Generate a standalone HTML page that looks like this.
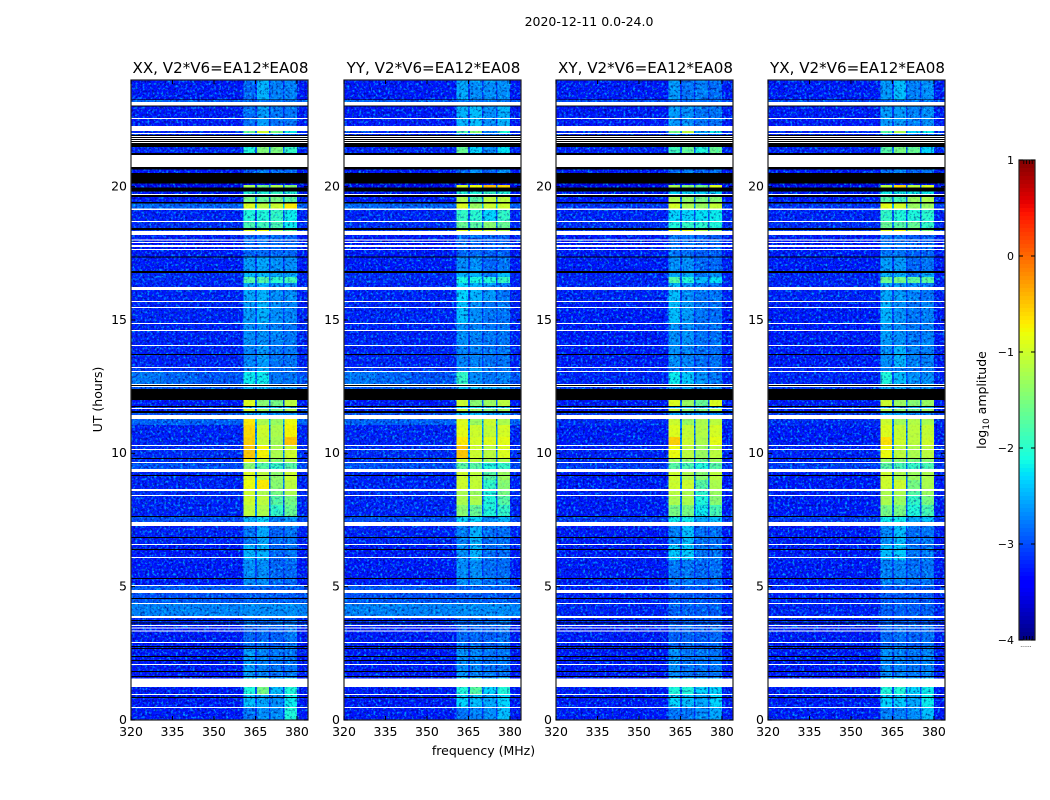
<!DOCTYPE html>
<html>
<head>
<meta charset="utf-8">
<title>2020-12-11 amplitude dynamic spectra</title>
<style>
html,body{margin:0;padding:0;background:#fff;width:1050px;height:800px;overflow:hidden}
svg{display:block}
text{font-family:"DejaVu Sans","Liberation Sans",sans-serif;fill:#000}
</style>
</head>
<body>
<svg id="chart" xmlns="http://www.w3.org/2000/svg" width="1050" height="800" viewBox="0 0 1050 800">
<defs>
<filter id="speckleLight" x="0" y="0" width="1" height="1" color-interpolation-filters="sRGB">
<feTurbulence type="fractalNoise" baseFrequency="0.42" numOctaves="2" seed="4"/>
<feColorMatrix type="matrix" values="0 0 0 0 0  0 0 0 0 0.85  0 0 0 0 1  3.2 0 0 0 -1.55"/>
</filter>
<filter id="speckleDark" x="0" y="0" width="1" height="1" color-interpolation-filters="sRGB">
<feTurbulence type="fractalNoise" baseFrequency="0.42" numOctaves="2" seed="11"/>
<feColorMatrix type="matrix" values="0 0 0 0 0  0 0 0 0 0  0 0 0 0 0.45  3.2 0 0 0 -1.6"/>
</filter>
</defs>
<text x="589" y="26" font-size="12.5" text-anchor="middle">2020-12-11 0.0-24.0</text>
<text x="483.5" y="755" font-size="12.5" text-anchor="middle">frequency (MHz)</text>
<text x="0" y="0" font-size="12.5" text-anchor="middle" transform="translate(102,399.5) rotate(-90)">UT (hours)</text>
<text x="0" y="0" font-size="12.5" text-anchor="middle" transform="translate(986,400) rotate(-90)">log<tspan font-size="9" dy="3">10</tspan><tspan dy="-3"> amplitude</tspan></text>
<g id="panels"></g>
<g id="colorbar"></g>
</svg>
<script>
// ---- data (log10 amplitude; time in hours, frequency in MHz) ----
const panelNames = ['XX', 'YY', 'XY', 'YX'];
const titleSuffix = ', V2*V6=EA12*EA08';
const xTicks = [320, 335, 350, 365, 380];
const yTicks = [0, 5, 10, 15, 20];
const colorbarTicks = [1, 0, -1, -2, -3, -4];
const freqEdges = [320, 332, 344, 360.7, 364.9, 365.5, 369.9, 370.5, 374.9, 375.5, 380, 384];
const timeEdges = [24, 23.25, 23, 22.09, 22.01, 21.49, 21.26, 20.51, 20.07, 19.91, 19.67, 19.41, 19.18, 18.69, 18.41, 18.19, 17.36, 16.8, 16.61, 16.39, 15.69, 14.87, 14.04, 13.22, 13.05, 12.56, 12, 11.76, 11.66, 11.57, 11.29, 11.06, 10.61, 10.275, 9.79, 9.64, 9.3, 9, 8.66, 8.4, 8.06, 7.61, 7.275, 6.56, 6, 5.06, 4.875, 4.575, 4.35, 3.86, 3.56, 2.66, 1.575, 0.975, 0.45, 0];
const lowParallelLeft = [-3.2,-2.7,-3.2,-3.1,-3.1,-3.15,-3.2,-3.5,-3.4,-3.2,-3.2,-2.7,-3.15,-3.1,-3,-3.2,-3.2,-3.1,-3.1,-3.15,-3.15,-3.15,-3.15,-3.05,-2.6,-2.8,-3.2,-3.1,-3.2,-2.85,-2.75,-3.15,-3.15,-3.1,-3.1,-2.85,-3.15,-3.15,-3.1,-3.15,-3.15,-2.85,-3.15,-3.2,-3.2,-2.8,-2.85,-2.8,-2.55,-3.1,-3.2,-3.2,-3.2,-3.2,-3.2];
const lowParallelRight = [-3.2,-2.8,-3.2,-3.1,-3.1,-3.15,-3.2,-3.5,-3.4,-3.2,-3.2,-2.75,-3.15,-3.1,-3,-3.2,-3.2,-3.1,-3.15,-3.15,-3.15,-3.15,-3.15,-3.1,-2.85,-2.8,-3.2,-3.1,-3.2,-2.85,-2.75,-3.15,-3.15,-3.1,-3.1,-2.9,-3.15,-3.15,-3.1,-3.15,-3.15,-2.9,-3.15,-3.2,-3.2,-2.8,-2.85,-2.8,-2.55,-3.1,-3.2,-3.2,-3.2,-3.2,-3.2];
const lowCross = [-3.2,-2.9,-3.2,-3.1,-3.1,-3.15,-3.2,-3.5,-3.4,-3.2,-3.2,-3.05,-3.15,-3.1,-3,-3.2,-3.2,-3.15,-3.15,-3.15,-3.2,-3.2,-3.2,-3.15,-3.15,-3,-3.2,-3.1,-3.2,-3,-3.1,-3.2,-3.2,-3.15,-3.15,-3,-3.2,-3.2,-3.15,-3.2,-3.2,-3,-3.2,-3.2,-3.2,-3.15,-3.15,-3.15,-3.15,-3.15,-3.2,-3.2,-3.2,-3.2,-3.2];
const bandsXX = [
[-2.7,-2.35,-2.55,-2.55],[-2.6,-2.6,-2.6,-2.6],[-2.65,-2.45,-2.6,-2.6],[-1.6,-1,-1.5,-2.1],[-2.7,-2.7,-2.7,-2.8],
[-2,-1.45,-1.45,-1.9],[-2.8,-2.6,-2.7,-2.7],[-3.3,-3.3,-3.3,-3.3],[-1.2,-1.5,-1.2,-1.4],[-2,-2,-1.9,-2],
[-1.5,-1.6,-1.5,-1.7],[-0.9,-1.1,-1,-0.7],[-2,-2,-1.9,-2.1],[-1.8,-1.85,-1.8,-2.1],[-0.9,-0.8,-1.3,-1.7],
[-2.7,-2.65,-2.7,-2.7],[-2.45,-2.4,-2.5,-2.5],[-2.3,-2.3,-2.4,-2.4],[-1.75,-1.75,-1.95,-1.85],[-2.4,-2.35,-2.5,-2.5],
[-2.45,-2.35,-2.5,-2.55],[-2.5,-2.5,-2.55,-2.6],[-2.55,-2.45,-2.6,-2.6],[-2.55,-2.4,-2.7,-2.65],[-2.1,-2.1,-2.6,-2.6],
[-2.35,-2.35,-2.5,-2.5],[-0.9,-1.4,-1.5,-1.1],[-2.3,-2.3,-2.3,-2.3],[-1,-1.3,-1.5,-1.2],[-2.4,-2.4,-2.5,-2.5],
[-0.7,-1.2,-1.3,-0.8],[-0.6,-1,-1.2,-0.75],[-0.55,-1.05,-1.25,-0.5],[-0.5,-0.75,-1.2,-1],[-0.7,-1.1,-1.4,-1.2],
[-1.4,-1.7,-1.9,-1.7],[-0.9,-1.1,-1.35,-1],[-0.8,-0.7,-1.4,-1.1],[-1,-1.2,-1.5,-1.2],[-1,-1.1,-1.7,-1.5],
[-1.1,-1.2,-1.9,-1.6],[-2.35,-2.2,-2.6,-2.5],[-2.6,-2.4,-2.7,-2.6],[-2.35,-2.35,-2.7,-2.6],[-2.5,-2.5,-2.7,-2.7],
[-2.7,-2.7,-2.75,-2.75],[-2.8,-2.75,-2.8,-2.8],[-2.75,-2.75,-2.75,-2.75],[-2.5,-2.5,-2.5,-2.5],[-2.7,-2.7,-2.7,-2.6],
[-2.7,-2.7,-2.75,-2.6],[-2.45,-2.55,-2.6,-2.6],[-2,-1.5,-2.3,-2],[-2.3,-2.4,-2.5,-2.1],[-2.6,-2.5,-2.5,-2]];
const bandsYY = [
[-2.4,-2.5,-2.5,-2.5],[-2.6,-2.6,-2.6,-2.6],[-2.35,-2.3,-2.5,-2.35],[-1.8,-1.4,-2.6,-2],[-2.7,-2.7,-2.7,-2.8],
[-1.6,-2.2,-2.5,-2.15],[-2.7,-2.5,-2.7,-2.5],[-3.3,-3.3,-3.3,-3.3],[-0.9,-0.8,-0.45,-0.6],[-2,-2,-1.9,-2],
[-1.2,-1.7,-1.1,-1.1],[-0.9,-1.3,-1,-1],[-1.9,-1.95,-2.2,-1.9],[-1.6,-1.7,-1.4,-1.6],[-0.9,-0.8,-1,-1.2],
[-2.7,-2.7,-2.75,-2.75],[-2.5,-2.5,-2.7,-2.6],[-2.35,-2.35,-2.6,-2.3],[-2.05,-2.05,-2,-1.9],[-2.2,-2.35,-2.45,-2.6],
[-2.3,-2.5,-2.6,-2.6],[-2.5,-2.55,-2.6,-2.6],[-2.55,-2.55,-2.6,-2.6],[-2.55,-2.4,-2.6,-2.65],[-1.9,-2.5,-2.6,-2.55],
[-2.3,-2.3,-2.4,-2.4],[-1,-1.4,-1.3,-1.1],[-2.2,-2.2,-2.2,-2.2],[-1.1,-1.3,-1.5,-1.3],[-2.3,-2.3,-2.4,-2.4],
[-0.9,-1.3,-1,-1.2],[-0.85,-1,-1.05,-0.95],[-0.7,-0.95,-0.9,-0.85],[-0.5,-1,-1.1,-0.9],[-1,-1.1,-1.3,-1.2],
[-1.7,-1.7,-2,-1.9],[-1,-1.1,-1.7,-1.3],[-1,-1.05,-1.9,-1.4],[-1.2,-1.3,-2,-1.5],[-1.2,-1.2,-2,-1.7],
[-1.4,-1.6,-2,-1.9],[-2.2,-2.2,-2.5,-2.35],[-2.55,-2.35,-2.65,-2.65],[-2.5,-2.35,-2.65,-2.65],[-2.5,-2.5,-2.65,-2.65],
[-2.7,-2.7,-2.7,-2.7],[-2.8,-2.75,-2.8,-2.8],[-2.75,-2.75,-2.75,-2.75],[-2.5,-2.5,-2.5,-2.5],[-2.7,-2.7,-2.7,-2.6],
[-2.7,-2.7,-2.75,-2.65],[-2.5,-2.55,-2.6,-2.6],[-2,-1.7,-2.2,-2],[-2.2,-2.3,-2.4,-2.2],[-2.6,-2.55,-2.5,-2.3]];
const bandsXY = [
[-2.45,-2.6,-2.55,-2.65],[-2.7,-2.7,-2.7,-2.7],[-2.45,-2.5,-2.6,-2.6],[-1.5,-1.1,-2.4,-2.1],[-2.7,-2.7,-2.7,-2.8],
[-1.85,-1.6,-2,-1.6],[-2.7,-2.6,-2.7,-2.6],[-3.3,-3.3,-3.3,-3.3],[-1.2,-1.4,-1.5,-0.9],[-2.2,-2.2,-2.2,-2.2],
[-1.2,-1.35,-1.5,-1.4],[-0.95,-1.2,-1.3,-1.05],[-2.2,-2.2,-2.15,-2.1],[-2,-1.9,-1.95,-2],[-0.9,-0.8,-1.2,-1.5],
[-2.6,-2.65,-2.75,-2.75],[-2.5,-2.5,-2.7,-2.7],[-2.4,-2.4,-2.6,-2.5],[-1.75,-2,-2.3,-2.15],[-2.3,-2.5,-2.6,-2.6],
[-2.3,-2.45,-2.6,-2.65],[-2.5,-2.5,-2.65,-2.65],[-2.5,-2.55,-2.65,-2.65],[-2.6,-2.65,-2.7,-2.7],[-2.1,-2.25,-2.5,-2.6],
[-2.4,-2.4,-2.5,-2.5],[-0.9,-1.3,-1.6,-0.9],[-2.4,-2.4,-2.4,-2.4],[-1.1,-1.4,-1.5,-1.2],[-2.4,-2.4,-2.5,-2.5],
[-1,-1.3,-1.2,-1.1],[-0.9,-1.05,-1.15,-0.95],[-0.55,-1,-1.2,-0.85],[-0.8,-1.1,-1.3,-1.1],[-1.3,-1.4,-1.6,-1.3],
[-1.7,-1.8,-2,-1.7],[-1,-1.2,-1.4,-1.1],[-1,-1,-1.7,-1.2],[-1.1,-1.2,-1.9,-1.3],[-1.2,-1.2,-2,-1.4],
[-1.5,-1.5,-2.1,-1.8],[-2.1,-2.1,-2.4,-2.3],[-2.55,-2.3,-2.65,-2.65],[-2.25,-2.25,-2.6,-2.6],[-2.6,-2.6,-2.7,-2.65],
[-2.8,-2.8,-2.8,-2.8],[-2.8,-2.8,-2.8,-2.8],[-2.8,-2.8,-2.8,-2.8],[-2.75,-2.75,-2.75,-2.75],[-2.8,-2.8,-2.8,-2.8],
[-2.75,-2.7,-2.8,-2.7],[-2.5,-2.6,-2.6,-2.6],[-2,-2,-2.2,-2.2],[-2.2,-2.3,-2.4,-2.2],[-2.6,-2.6,-2.5,-2.4]];
const bandsYX = [
[-2.45,-2.3,-2.55,-2.5],[-2.7,-2.7,-2.7,-2.7],[-2.45,-2.45,-2.55,-2.5],[-1.7,-1.2,-2.2,-2.1],[-2.7,-2.7,-2.7,-2.8],
[-1.7,-1.5,-1.6,-2.2],[-2.7,-2.55,-2.7,-2.6],[-3.3,-3.3,-3.3,-3.3],[-1.1,-0.6,-1.1,-0.9],[-2.1,-2.1,-2.1,-2.1],
[-1.7,-1.8,-1.3,-1.2],[-0.85,-0.95,-1.3,-1.3],[-1.9,-2,-2,-1.95],[-1.6,-1.7,-1.6,-1.9],[-0.9,-0.8,-1.2,-1.5],
[-2.6,-2.6,-2.75,-2.75],[-2.45,-2.45,-2.7,-2.6],[-2.35,-2.35,-2.6,-2.4],[-1.6,-1.55,-1.65,-1.7],[-2.4,-2.45,-2.55,-2.6],
[-2.35,-2.5,-2.6,-2.55],[-2.45,-2.5,-2.6,-2.55],[-2.5,-2.35,-2.55,-2.55],[-2.55,-2.6,-2.7,-2.6],[-2,-2.3,-2.5,-2.5],
[-2.4,-2.4,-2.5,-2.5],[-1,-1.3,-1.4,-1.3],[-2.4,-2.4,-2.4,-2.4],[-1.2,-1.4,-1.5,-1.3],[-2.4,-2.4,-2.5,-2.5],
[-1,-1.25,-1.15,-1.2],[-0.9,-1.05,-1.1,-1.05],[-0.65,-1,-1.1,-1],[-0.8,-1.1,-1.2,-1.1],[-1.3,-1.4,-1.5,-1.4],
[-1.7,-1.8,-1.9,-1.8],[-1,-1.2,-1.3,-1.2],[-1,-1,-1.5,-1.2],[-1.2,-1.2,-1.7,-1.3],[-1.2,-1.3,-1.9,-1.5],
[-1.5,-1.5,-2,-1.8],[-2.1,-2.1,-2.4,-2.3],[-2.5,-2.3,-2.65,-2.6],[-2.3,-2.25,-2.6,-2.6],[-2.55,-2.55,-2.65,-2.6],
[-2.8,-2.8,-2.8,-2.8],[-2.8,-2.8,-2.8,-2.8],[-2.8,-2.8,-2.8,-2.8],[-2.75,-2.75,-2.75,-2.75],[-2.8,-2.8,-2.8,-2.8],
[-2.7,-2.65,-2.75,-2.65],[-2.5,-2.55,-2.6,-2.55],[-2,-2,-2.2,-2.1],[-2.2,-2.25,-2.4,-2.1],[-2.55,-2.55,-2.5,-2.3]];
const whiteRows = [[23.175,23.05],[22.575,22.54],[22.275,22.09],[22.01,21.975],[21.9,21.86],[21.825,21.79],[21.75,21.71],[21.675,21.64],[21.19,20.74],[19.725,19.69],[19.19,19.125],[18.71,18.675],[18.34,18.19],[18.02,17.98],[17.925,17.89],[17.81,17.74],[17.66,17.625],[16.24,16.125],[15.71,15.675],[15.49,15.45],[14.89,14.85],[14.625,14.59],[14.06,14.025],[13.24,13.2],[13.09,13.05],[12.6,12.56],[12.525,12.49],[11.7,11.66],[11.44,11.29],[10.31,10.275],[10.16,10.125],[9.675,9.64],[9.41,9.3],[8.66,8.59],[8.44,8.4],[7.425,7.275],[6.6,6.56],[6.11,6.075],[5.06,5.025],[4.875,4.76],[4.39,4.35],[3.9,3.825],[3.56,3.525],[3.476,3.44],[3.356,3.32],[2.925,2.89],[2.1,2.06],[1.556,1.24],[0.975,0.94],[0.49,0.45]];
const blackRows = [[23.27,23.25],[23.05,23],[21.94,21.9],[21.86,21.825],[21.79,21.75],[21.71,21.675],[21.64,21.49],[21.26,21.19],[20.74,20.65],[20.51,20.11],[19.96,19.81],[19.69,19.62],[19.425,19.375],[18.45,18.375],[17.375,17.34],[16.84,16.76],[13.725,13.69],[12.56,12.525],[12.41,12],[11.775,11.74],[11.59,11.51],[9.825,9.79],[9.19,9.15],[7.65,7.61],[6.86,6.825],[6.41,6.375],[5.325,5.29],[4.575,4.54],[3.75,3.71],[3.656,3.62],[2.775,2.74],[2.7,2.66],[2.4,2.36],[2.25,2.21],[1.84,1.8],[1.65,1.61],[0.86,0.825]];

// ---- drawing ----
const NS = 'http://www.w3.org/2000/svg';
const panelLefts = [131, 344, 556, 768];
const panelWidth = 177;
const plotTop = 80, plotBottom = 720;
const cmin = -4, cmax = 1;
const cbarX = 1019, cbarW = 16, cbarTop = 160, cbarBottom = 640;

function make(tag, attrs, parent) {
  const el = document.createElementNS(NS, tag);
  for (const k in attrs) el.setAttribute(k, attrs[k]);
  parent.appendChild(el);
  return el;
}
function interp(stops, t) {
  if (t <= stops[0][0]) return stops[0][1];
  for (let i = 1; i < stops.length; i++) {
    if (t <= stops[i][0]) {
      const a = stops[i - 1], b = stops[i];
      return a[1] + (b[1] - a[1]) * (t - a[0]) / (b[0] - a[0]);
    }
  }
  return stops[stops.length - 1][1];
}
const jetR = [[0,0],[0.35,0],[0.66,1],[0.89,1],[1,0.5]];
const jetG = [[0,0],[0.125,0],[0.375,1],[0.64,1],[0.91,0],[1,0]];
const jetB = [[0,0.5],[0.11,1],[0.34,1],[0.65,0],[1,0]];
const speckleOffset = [[-3.2,0.1],[-2.6,0.22],[-1.8,0]];
function jet(v) {
  const t = Math.max(0, Math.min(1, (v - cmin) / (cmax - cmin)));
  const c = x => Math.round(255 * interp(x, t));
  return 'rgb(' + c(jetR) + ',' + c(jetG) + ',' + c(jetB) + ')';
}
// speckle overlays brighten the mean colour, so the base fill sits slightly lower
function cellColor(v) { return jet(v - interp(speckleOffset, v)); }
function xScale(p, f) { return panelLefts[p] + (f - 320) * panelWidth / 64; }
function yScale(h) { return plotBottom - h * (plotBottom - plotTop) / 24; }
function colorScale(v) { return cbarBottom - (v - cmin) * (cbarBottom - cbarTop) / (cmax - cmin); }
function gapLevel(low, a, b) { return low + (Math.min(a, b) - low) * 0.3; }

const bandTables = [bandsXX, bandsYY, bandsXY, bandsYX];
const panelsG = document.getElementById('panels');

panelNames.forEach(function (name, p) {
  const g = make('g', {}, panelsG);
  
  
  const x0 = panelLefts[p];
  const bands = bandTables[p];
  const brightCells = [];
  for (let r = 0; r < timeEdges.length - 1; r++) {
    const lowA = p < 2 ? lowParallelLeft[r] : lowCross[r];
    const lowB = p < 2 ? lowParallelRight[r] : lowCross[r];
    const b = bands[r];
    const cols = [lowA, (lowA + lowB) / 2, lowB, b[0], gapLevel(lowB, b[0], b[1]), b[1], gapLevel(lowB, b[1], b[2]), b[2], gapLevel(lowB, b[2], b[3]), b[3], lowB];
    const y1 = yScale(timeEdges[r]), y2 = yScale(timeEdges[r + 1]);
    for (let c = 0; c < cols.length; c++) {
      const xa = xScale(p, freqEdges[c]), xb = xScale(p, freqEdges[c + 1]);
      const cell = make('rect', { x: xa, y: y1, width: xb - xa, height: y2 - y1, fill: cellColor(cols[c]), 'shape-rendering': 'crispEdges' }, g);
      
      
      if (cols[c] > -2.2) brightCells.push([xa, y1, xb - xa, y2 - y1, cols[c]]);
    }
  }
  const light = make('rect', { x: x0, y: plotTop, width: panelWidth, height: plotBottom - plotTop, filter: 'url(#speckleLight)', opacity: 0.75 }, g);
  
  
  const dark = make('rect', { x: x0, y: plotTop, width: panelWidth, height: plotBottom - plotTop, filter: 'url(#speckleDark)', opacity: 0.7 }, g);
  
  

  // strong signal is much smoother than the noise floor: calm the speckle there
  brightCells.forEach(function (q) {
    const veil = make('rect', { x: q[0], y: q[1], width: q[2], height: q[3], fill: cellColor(q[4]), 'fill-opacity': Math.min(0.88, (q[4] + 2.2) * 0.9), 'shape-rendering': 'crispEdges' }, g);
    
    
  });

  whiteRows.forEach(function (w) {
    const y1 = yScale(w[0]), y2 = yScale(w[1]);
    const row = make('rect', { x: x0, y: y1, width: panelWidth, height: y2 - y1, fill: '#fff', 'shape-rendering': 'crispEdges' }, g);
    
    
  });
  blackRows.forEach(function (w) {
    const y1 = yScale(w[0]), y2 = yScale(w[1]);
    const row = make('rect', { x: x0, y: y1, width: panelWidth, height: y2 - y1, fill: '#000', 'shape-rendering': 'crispEdges' }, g);
    
    
  });

  const frame = make('rect', { x: x0, y: plotTop, width: panelWidth, height: plotBottom - plotTop, fill: 'none', stroke: '#222', 'stroke-width': 1.2 }, g);
  
  

  const title = make('text', { x: x0 + panelWidth / 2 + 1, y: 73, 'font-size': 15.1, 'text-anchor': 'middle' }, g);
  title.textContent = name + titleSuffix;
  
  

  xTicks.forEach(function (f) {
    const x = xScale(p, f);
    make('line', { x1: x, x2: x, y1: plotBottom, y2: plotBottom - 4, stroke: '#000' }, g);
    make('line', { x1: x, x2: x, y1: plotTop, y2: plotTop + 4, stroke: '#000' }, g);
    const lab = make('text', { x: x, y: 736, 'font-size': 12.5, 'text-anchor': 'middle' }, g);
    lab.textContent = f;
    
    
  });
  yTicks.forEach(function (h) {
    const y = yScale(h);
    make('line', { x1: x0, x2: x0 + 4, y1: y, y2: y, stroke: '#000' }, g);
    make('line', { x1: x0 + panelWidth, x2: x0 + panelWidth - 4, y1: y, y2: y, stroke: '#000' }, g);
    const lab = make('text', { x: x0 - 4, y: y + 3.8, 'font-size': 12.5, 'text-anchor': 'end' }, g);
    lab.textContent = h;
    
    
  });
});

// colorbar
const cb = document.getElementById('colorbar');
for (let i = 0; i < 120; i++) {
  const yA = cbarTop + i * (cbarBottom - cbarTop) / 120;
  const v = cmax - (i + 0.5) * (cmax - cmin) / 120;
  const s = make('rect', { x: cbarX, y: yA, width: cbarW, height: (cbarBottom - cbarTop) / 120 + 0.5, fill: jet(v), 'shape-rendering': 'crispEdges' }, cb);
  
  
}
const cbFrame = make('rect', { x: cbarX, y: cbarTop, width: cbarW, height: cbarBottom - cbarTop, fill: 'none', stroke: '#222', 'stroke-width': 1.2 }, cb);


colorbarTicks.forEach(function (v) {
  const y = colorScale(v);
  make('line', { x1: cbarX, x2: cbarX + 4, y1: y, y2: y, stroke: '#000' }, cb);
  make('line', { x1: cbarX + cbarW, x2: cbarX + cbarW - 4, y1: y, y2: y, stroke: '#000' }, cb);
  const lab = make('text', { x: cbarX - 5, y: y + 4, 'font-size': 11, 'text-anchor': 'end' }, cb);
  lab.textContent = v < 0 ? '\u2212' + Math.abs(v) : String(v);
  
  
});
for (let i = 1; i <= 4; i++) {
  const x = cbarX + 2 + i * 2.8;
  make('line', { x1: x, x2: x, y1: cbarTop, y2: cbarTop + 4, stroke: '#000', 'stroke-width': 0.8 }, cb);
  make('line', { x1: x, x2: x, y1: cbarBottom, y2: cbarBottom - 4, stroke: '#000', 'stroke-width': 0.8 }, cb);
}
const dots = make('text', { x: cbarX + cbarW / 2 - 1, y: 647, 'font-size': 6, 'text-anchor': 'middle', fill: '#777' }, cb);
dots.textContent = '......';


</script>
</body>
</html>
